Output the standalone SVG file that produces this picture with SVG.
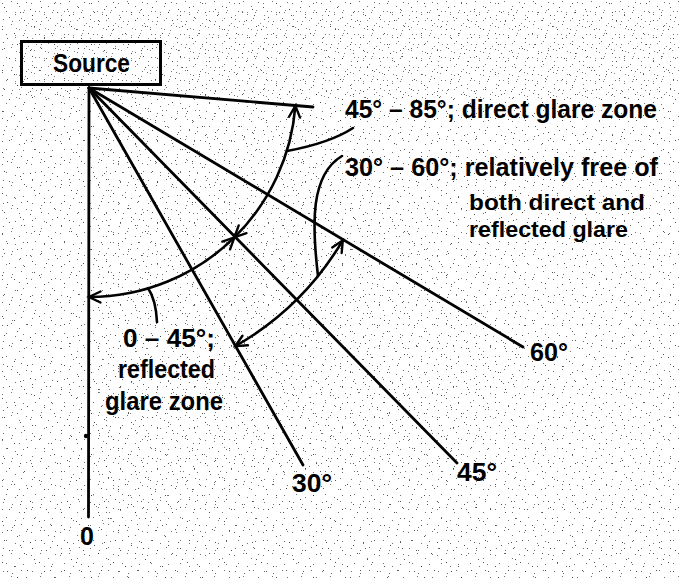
<svg xmlns="http://www.w3.org/2000/svg" width="679" height="578" viewBox="0 0 679 578">
<style>
.ln{fill:none;stroke:#000;stroke-width:2.8;stroke-linecap:round}
.arc{fill:none;stroke:#000;stroke-width:2.6;marker-start:url(#ah);marker-end:url(#ah)}
.ld{fill:none;stroke:#000;stroke-width:2.6;stroke-linecap:round}
text{font-family:"Liberation Sans",Arial,sans-serif;font-weight:bold;fill:#000}
.t{font-size:25px}
.s{font-size:22px}
</style>
<defs>
<marker id="ah" markerUnits="userSpaceOnUse" viewBox="0 0 14 12" markerWidth="14" markerHeight="12" refX="12.5" refY="6" orient="auto-start-reverse" overflow="visible">
<path d="M1,0.5 L12.5,6 L1,11.5" fill="none" stroke="#000" stroke-width="2.4" stroke-linecap="round"/>
</marker>
<pattern id="sp1" width="29" height="23" patternUnits="userSpaceOnUse">
<rect x="2" y="3" width="1" height="1" fill="#333"/><rect x="11" y="1" width="1" height="1" fill="#333"/><rect x="19" y="6" width="1" height="1" fill="#333"/><rect x="26" y="2" width="1" height="1" fill="#333"/><rect x="6" y="11" width="1" height="1" fill="#333"/><rect x="15" y="14" width="1" height="1" fill="#333"/><rect x="23" y="12" width="1" height="1" fill="#333"/><rect x="3" y="19" width="1" height="1" fill="#333"/><rect x="12" y="21" width="1" height="1" fill="#333"/><rect x="21" y="18" width="1" height="1" fill="#333"/>
</pattern>
<pattern id="sp2" width="37" height="41" patternUnits="userSpaceOnUse">
<rect x="4" y="7" width="1" height="1" fill="#222"/><rect x="17" y="3" width="1" height="1" fill="#222"/><rect x="30" y="9" width="1" height="1" fill="#222"/><rect x="9" y="17" width="1" height="1" fill="#222"/><rect x="24" y="20" width="1" height="1" fill="#222"/><rect x="34" y="26" width="1" height="1" fill="#222"/><rect x="2" y="29" width="1" height="1" fill="#222"/><rect x="14" y="33" width="1" height="1" fill="#222"/><rect x="27" y="37" width="1" height="1" fill="#222"/><rect x="20" y="12" width="1" height="1" fill="#222"/><rect x="7" y="38" width="1" height="1" fill="#222"/><rect x="32" y="15" width="1" height="1" fill="#222"/>
</pattern>
</defs>
<rect width="679" height="578" fill="#fff"/>
<rect width="679" height="578" fill="url(#sp1)" opacity="0.7"/>
<rect width="679" height="578" fill="url(#sp2)" opacity="0.8"/>
<rect width="679" height="90" fill="url(#sp1)" opacity="0.6" transform="translate(13,9)"/>
<path d="M89,88 L313,107 L523,347 L457,463 L303,465 L88.5,517 Z" fill="url(#sp2)" opacity="0.6" transform="translate(5,11)"/>

<g id="connectors">
<line class="ln" x1="89" y1="88" x2="88.5" y2="517"/>
<line class="ln" x1="89" y1="88" x2="303" y2="465"/>
<line class="ln" x1="89" y1="88" x2="457" y2="463"/>
<line class="ln" x1="89" y1="88" x2="523" y2="347"/>
<line class="ln" x1="89" y1="88" x2="313" y2="107"/>
<circle cx="86" cy="436" r="2.2" fill="#000"/>
<path class="arc" d="M234.4,237.4 A207,207 0 0 0 295.4,105.7"/>
<path class="arc" d="M89,297 A207,207 0 0 0 234.4,237.4"/>
<path class="arc" d="M235.2,346.2 A295,295 0 0 0 342.8,240.3"/>
<path class="ld" d="M287,151 Q330,143 353,128"/>
<path class="ld" d="M318,276 C312,225 310,175 342,156"/>
<path class="ld" d="M148,288 Q156,300 157,322"/>
</g>

<g id="source">
<rect x="21.5" y="41.5" width="139" height="43" fill="none" stroke="#000" stroke-width="3"/>
<text x="53" y="72" font-size="26" textLength="77" lengthAdjust="spacingAndGlyphs">Source</text>
</g>

<g id="label-direct">
<text class="t" x="345" y="118" textLength="312" lengthAdjust="spacingAndGlyphs">45° – 85°; direct glare zone</text>
</g>
<g id="label-free">
<text class="t" x="345" y="176" textLength="313" lengthAdjust="spacingAndGlyphs">30° – 60°; relatively free of</text>
<text class="s" x="469" y="210" textLength="176" lengthAdjust="spacingAndGlyphs">both direct and</text>
<text class="s" x="469" y="237" textLength="159" lengthAdjust="spacingAndGlyphs">reflected glare</text>
</g>
<g id="label-reflected">
<text class="t" x="123" y="347" textLength="92" lengthAdjust="spacingAndGlyphs">0 – 45°;</text>
<text class="t" x="118" y="378" textLength="97" lengthAdjust="spacingAndGlyphs">reflected</text>
<text class="t" x="105" y="410" textLength="118" lengthAdjust="spacingAndGlyphs">glare zone</text>
</g>
<g id="angle-labels">
<text class="t" x="80" y="545" font-size="26">0</text>
<text class="t" x="292" y="492" textLength="40" lengthAdjust="spacingAndGlyphs">30°</text>
<text class="t" x="457" y="481" textLength="40" lengthAdjust="spacingAndGlyphs">45°</text>
<text class="t" x="530" y="361" textLength="38" lengthAdjust="spacingAndGlyphs">60°</text>
</g>
</svg>
